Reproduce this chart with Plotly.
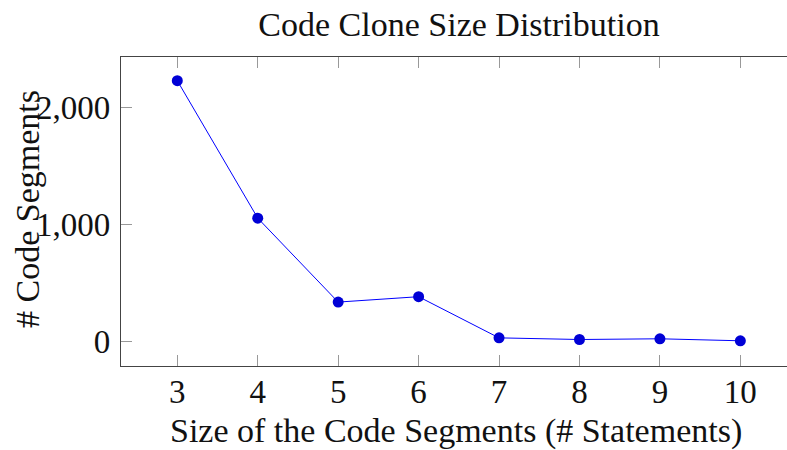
import plotly.graph_objects as go

sizes = [3, 4, 5, 6, 7, 8, 9, 10]
segments = [2227, 1055, 339, 385, 34, 20, 26, 9]
x_ticks = [3, 4, 5, 6, 7, 8, 9, 10]
y_ticks = [0, 1000, 2000]

FONT = "Liberation Serif"
W, H = 787, 450
L, R, T, B = 121, 0, 57, 84
pw = W - L - R
ph = H - T - B
TXT = "#111111"

fig = go.Figure()
fig.add_trace(go.Scatter(
    x=sizes, y=segments, mode="lines+markers",
    line=dict(color="#0000ff", width=1),
    marker=dict(color="#0000d6", size=11, line=dict(width=0)),
    showlegend=False,
))

fig.update_layout(
    width=W, height=H,
    margin=dict(l=L, r=R, t=T, b=B),
    paper_bgcolor="white", plot_bgcolor="white",
    font=dict(family=FONT, size=33, color=TXT),
    title=dict(text="Code Clone Size Distribution", x=459 / W, xanchor="center",
               y=1 - 24 / H, yanchor="middle", font=dict(family=FONT, size=34, color=TXT)),
    xaxis=dict(range=[2.3, 10.58], tickvals=x_ticks, ticks="inside", ticklen=11,
               tickcolor="#999999", tickwidth=1, showline=True, linecolor="#444444",
               linewidth=1.3, mirror="ticks", showgrid=False, zeroline=False,
               ticklabelstandoff=-4,
               tickfont=dict(family=FONT, size=33, color=TXT)),
    yaxis=dict(range=[-206, 2429], tickvals=y_ticks, tickformat=",d", ticks="inside",
               ticklen=11, tickcolor="#999999", tickwidth=1, showline=True,
               linecolor="#444444", linewidth=1.3, showgrid=False, zeroline=False,
               ticklabelstandoff=3,
               tickfont=dict(family=FONT, size=33, color=TXT)),
    annotations=[
        dict(text="Size of the Code Segments (# Statements)", xref="paper", yref="paper",
             x=(456 - L) / pw, y=(T + ph - 431) / ph, xanchor="center", yanchor="middle",
             showarrow=False, font=dict(family=FONT, size=34, color=TXT)),
        dict(text="# Code Segments", xref="paper", yref="paper",
             x=(27 - L) / pw, y=(T + ph - 209) / ph, xanchor="center", yanchor="middle",
             textangle=-90, showarrow=False, font=dict(family=FONT, size=34, color=TXT)),
    ],
)

fig.write_html("out.html", config={"displayModeBar": False},
               post_script="document.body.style.margin='0';document.body.style.overflow='hidden';")
